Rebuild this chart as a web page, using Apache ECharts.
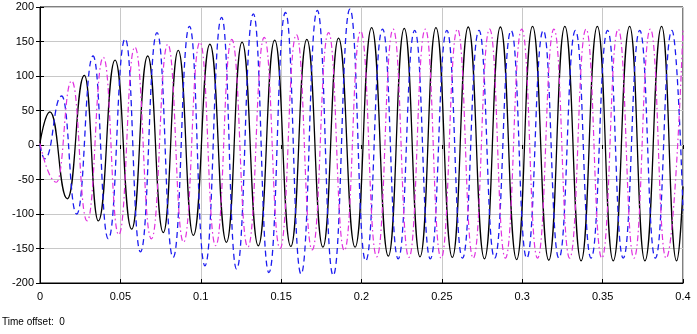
<!DOCTYPE html>
<html>
<head>
<meta charset="utf-8">
<script src="https://cdn.jsdelivr.net/npm/echarts@6/dist/echarts.min.js"></script>
<style>
  html, body { margin: 0; padding: 0; background: #fff; }
  #chart { width: 697px; height: 334px; }
</style>
</head>
<body>
<div id="chart"></div>
<script>
// x tick labels (time, s) and y ticks
const xTicks = [0, 0.05, 0.1, 0.15, 0.2, 0.25, 0.3, 0.35, 0.4]
const yTicks = [-200, -150, -100, -50, 0, 50, 100, 150, 200]

// phase A (black, solid): times of the peaks / troughs
const blackT = [0, 0.0062, 0.017, 0.0276, 0.0363, 0.0467, 0.057, 0.067, 0.0767, 0.086, 0.0954,
  0.1057, 0.116, 0.1257, 0.1358, 0.146, 0.156, 0.166, 0.176, 0.1857, 0.196,
  0.2063, 0.2167, 0.2266, 0.2364, 0.2463, 0.2565, 0.2664, 0.2765, 0.2864, 0.2965,
  0.3064, 0.3165, 0.3265, 0.3366, 0.3467, 0.3566, 0.3668, 0.3763, 0.3867, 0.396, 0.4]
const blackV = [3, 48, -78, 101, -110, 123, -122, 129, -127, 137, -131,
  146, -141, 149, -146, 152, -147, 153, -148, 155, -148,
  170, -161, 169, -162, 170, -163, 171, -165, 171, -166,
  172, -167, 172, -168, 172, -168, 172, -168, 172, -168, -60]

// phase B (blue, dashed)
const blueT = [0, 0.003, 0.0135, 0.0228, 0.033, 0.0425, 0.053, 0.0625, 0.0728, 0.0828, 0.093,
  0.1026, 0.113, 0.1223, 0.1327, 0.1424, 0.1527, 0.1624, 0.1725, 0.1824, 0.1928,
  0.2026, 0.2131, 0.2228, 0.2331, 0.2428, 0.2531, 0.2628, 0.2731, 0.2828, 0.2931,
  0.3028, 0.3131, 0.3228, 0.3331, 0.3428, 0.3531, 0.3628, 0.3731, 0.3828, 0.3931, 0.4]
const blueV = [0, -20, 71, -100, 129, -136, 154, -155, 163, -163, 172,
  -175, 185, -180, 190, -185, 192, -187, 195, -189, 197,
  -168, 168, -165, 166, -165, 166, -164, 166, -164, 166,
  -164, 166, -164, 166, -164, 166, -164, 166, -164, 166, -95]

// phase C (magenta, dash-dot)
const magT = [0, 0.0102, 0.0197, 0.0293, 0.0394, 0.049, 0.059, 0.0693, 0.0795, 0.0893, 0.0995,
  0.1093, 0.1193, 0.1293, 0.1395, 0.1493, 0.1595, 0.1693, 0.1795, 0.1893, 0.1995,
  0.2095, 0.2197, 0.2295, 0.2397, 0.2495, 0.2597, 0.2695, 0.2797, 0.2895, 0.2997,
  0.3095, 0.3197, 0.3295, 0.3397, 0.3495, 0.3597, 0.3695, 0.3797, 0.3895, 0.4]
const magV = [2, -54, 93, -110, 127, -130, 142, -136, 146, -141, 149,
  -146, 153, -148, 156, -150, 160, -152, 163, -153, 165,
  -162, 168, -163, 168, -164, 168, -164, 168, -164, 168,
  -164, 168, -164, 168, -164, 168, -164, 168, -164, 167]

const pairs = (ts, vs) => ts.map((t, i) => [t, vs[i]])

const chart = echarts.init(document.getElementById('chart'))

const axisFont = { fontFamily: 'Liberation Sans, Arial, sans-serif', fontSize: 11, color: '#000' }

const option = {
  backgroundColor: '#fff',
  animation: false,
  grid: {
    left: 40, right: 14, top: 7, bottom: 51,
    show: true, borderColor: '#000', borderWidth: 1, backgroundColor: '#fff'
  },
  xAxis: [
    {
      type: 'value', min: 0, max: 0.4, interval: 0.05,
      axisLine: { show: true, onZero: false, lineStyle: { color: '#000' } },
      axisTick: { show: true, inside: true, length: 4, lineStyle: { color: '#000' } },
      axisLabel: { ...axisFont, margin: 8, formatter: v => String(+v.toFixed(2)) },
      splitLine: { show: true, lineStyle: { color: '#c8c8c8', width: 1 } }
    },
    {
      type: 'value', min: 0, max: 0.4, interval: 0.05, position: 'top',
      axisLine: { show: false },
      axisTick: { show: true, inside: true, length: 4, lineStyle: { color: '#000' } },
      axisLabel: { show: false }, splitLine: { show: false }
    }
  ],
  yAxis: [
    {
      type: 'value', min: -200, max: 200, interval: 50,
      axisLine: { show: true, onZero: false, lineStyle: { color: '#000' } },
      axisTick: { show: true, inside: true, length: 4, lineStyle: { color: '#000' } },
      axisLabel: { ...axisFont, margin: 6 },
      splitLine: { show: true, lineStyle: { color: '#c8c8c8', width: 1 } }
    },
    {
      type: 'value', min: -200, max: 200, interval: 50, position: 'right',
      axisLine: { show: false },
      axisTick: { show: true, inside: true, length: 4, lineStyle: { color: '#000' } },
      axisLabel: { show: false }, splitLine: { show: false }
    }
  ],
  series: [
    {
      name: 'A', type: 'line', showSymbol: false, smooth: 0.5, smoothMonotone: 'x',
      data: pairs(blackT, blackV),
      lineStyle: { color: '#000', width: 1.3, type: 'solid' }
    },
    {
      name: 'B', type: 'line', showSymbol: false, smooth: 0.5, smoothMonotone: 'x',
      data: pairs(blueT, blueV),
      lineStyle: { color: '#1c1cf0', width: 1.3, type: [6, 4] }
    },
    {
      name: 'C', type: 'line', showSymbol: false, smooth: 0.5, smoothMonotone: 'x',
      data: pairs(magT, magV),
      lineStyle: { color: '#e030e0', width: 1.2, type: [6, 3, 1.5, 3] }
    }
  ],
  graphic: [
    {
      type: 'text', left: 2, top: 317,
      style: { text: 'Time offset:  0', font: '10px Liberation Sans, Arial, sans-serif', fill: '#000' }
    }
  ]
}

chart.setOption(option)
</script>
</body>
</html>
